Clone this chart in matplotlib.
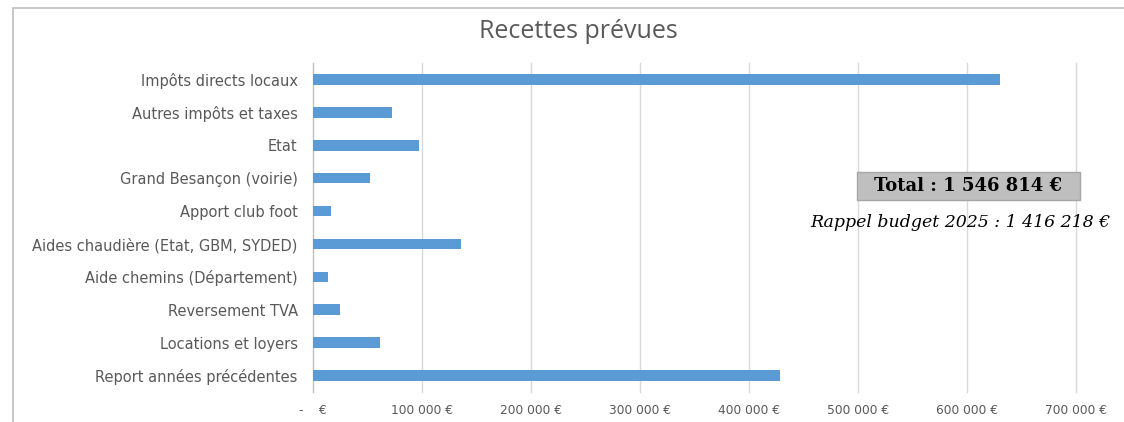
import matplotlib.pyplot as plt
from matplotlib.patches import Rectangle
from matplotlib.ticker import FuncFormatter

categories = ["Impôts directs locaux", "Autres impôts et taxes", "Etat",
              "Grand Besançon (voirie)", "Apport club foot",
              "Aides chaudière (Etat, GBM, SYDED)", "Aide chemins (Département)",
              "Reversement TVA", "Locations et loyers", "Report années précédentes"]
values = [630000, 72500, 97200, 52300, 16200, 135500, 14100, 25100, 61200, 428200]
ticks = [0, 100000, 200000, 300000, 400000, 500000, 600000, 700000]
total_text = "Total : 1 546 814 €"
rappel_text = "Rappel budget 2025 : 1 416 218 €"

W, H = 1124, 422
fig = plt.figure(figsize=(W / 100, H / 100), dpi=100)
grey = "#595959"

# outer chart border (cropped Excel frame)
fig.patches.append(Rectangle((13 / W, -0.1), 1.2, 1.1 - 8 / H, transform=fig.transFigure,
                             fill=False, edgecolor="#bfbfbf", lw=1.2))

ax = fig.add_axes([313 / W, 1 - 392 / H, (1076 - 313) / W, (392 - 63) / H])
y = list(range(len(categories)))
ax.barh(y, values, height=0.32, color="#5b9bd5", zorder=3)
ax.set_ylim(len(categories) - 0.5, -0.5)
ax.set_xlim(0, 700000)
ax.set_yticks(y)
ax.set_yticklabels(categories, fontsize=10.5, color=grey)
ax.set_xticks(ticks)


def fmt(v, pos):
    if v == 0:
        return "-    €"
    return f"{int(v):,} €".replace(",", " ")


ax.xaxis.set_major_formatter(FuncFormatter(fmt))
ax.tick_params(axis="x", labelsize=8.8, colors=grey, length=0, pad=9)
ax.tick_params(axis="y", length=0, pad=11)
ax.grid(axis="x", color="#d9d9d9", lw=1, zorder=0)
for gl in ax.get_xgridlines():
    gl.set_clip_on(False)
for s in ["top", "right", "bottom"]:
    ax.spines[s].set_visible(False)
ax.spines["left"].set_color("#bfbfbf")

fig.text(578 / W, 1 - 32 / H, "Recettes prévues", ha="center", va="center",
         fontsize=18, color=grey, family="Open Sans")

# grey box behind the total
fig.patches.append(Rectangle((857 / W, 1 - 200 / H), 223 / W, 28 / H, transform=fig.transFigure,
                             facecolor="#bfbfbf", edgecolor="#a6a6a6", lw=1, zorder=5))
fig.text(968 / W, 1 - 186 / H, total_text, ha="center", va="center",
         fontsize=13, fontweight="bold", family="DejaVu Serif", color="black", zorder=6)
fig.text(960 / W, 1 - 223 / H, rappel_text, ha="center", va="center",
         fontsize=12.5, style="italic", family="DejaVu Serif", color="black")

fig.savefig("out.png", dpi=100)
